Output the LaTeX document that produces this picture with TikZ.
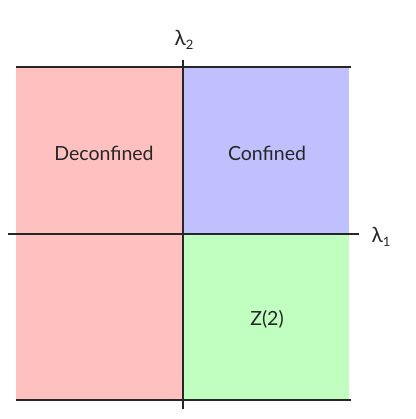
\documentclass[tikz,border=0pt]{standalone}
\usepackage{fontspec}
\setmainfont{Lato}
\definecolor{pinkq}{HTML}{FFC0C0}
\definecolor{blueq}{HTML}{C0C0FF}
\definecolor{greenq}{HTML}{C0FFC0}
\begin{document}
\begin{tikzpicture}[x=1pt,y=-1pt,
  lbl/.style={font=\fontsize{19.5}{21}\selectfont, text=black!85},
  axis/.style={line width=1.1pt, black!85}]
\useasboundingbox (0,0) rectangle (415,419);
\fill[pinkq] (16,67) rectangle (183,400);
\fill[blueq] (183,67) rectangle (349,234);
\fill[greenq] (183,234) rectangle (349,400);
\coordinate (tl) at (16,67);
\coordinate (tr) at (351,67);
\coordinate (bl) at (16,400);
\coordinate (br) at (351,400);
\coordinate (hl) at (8,234);
\coordinate (hr) at (359,234);
\coordinate (vt) at (183,60);
\coordinate (vb) at (183,409);
\draw[axis] (tl) -- (tr);
\draw[axis] (bl) -- (br);
\draw[axis] (hl) -- (hr);
\draw[axis] (vt) -- (vb);
\node[lbl] (dec) at (104,153) {Deconfined};
\node[lbl] (con) at (267,153) {Confined};
\node[lbl] (z2) at (267,319) {Z(2)};
\node[lbl, font=\fontsize{21}{23}\selectfont] (l2) at (184,40) {λ\raisebox{-0.3ex}{\fontsize{13}{15}\selectfont 2}};
\node[lbl, font=\fontsize{21}{23}\selectfont] (l1) at (381,237) {λ\raisebox{-0.3ex}{\fontsize{13}{15}\selectfont 1}};
\end{tikzpicture}
\end{document}
